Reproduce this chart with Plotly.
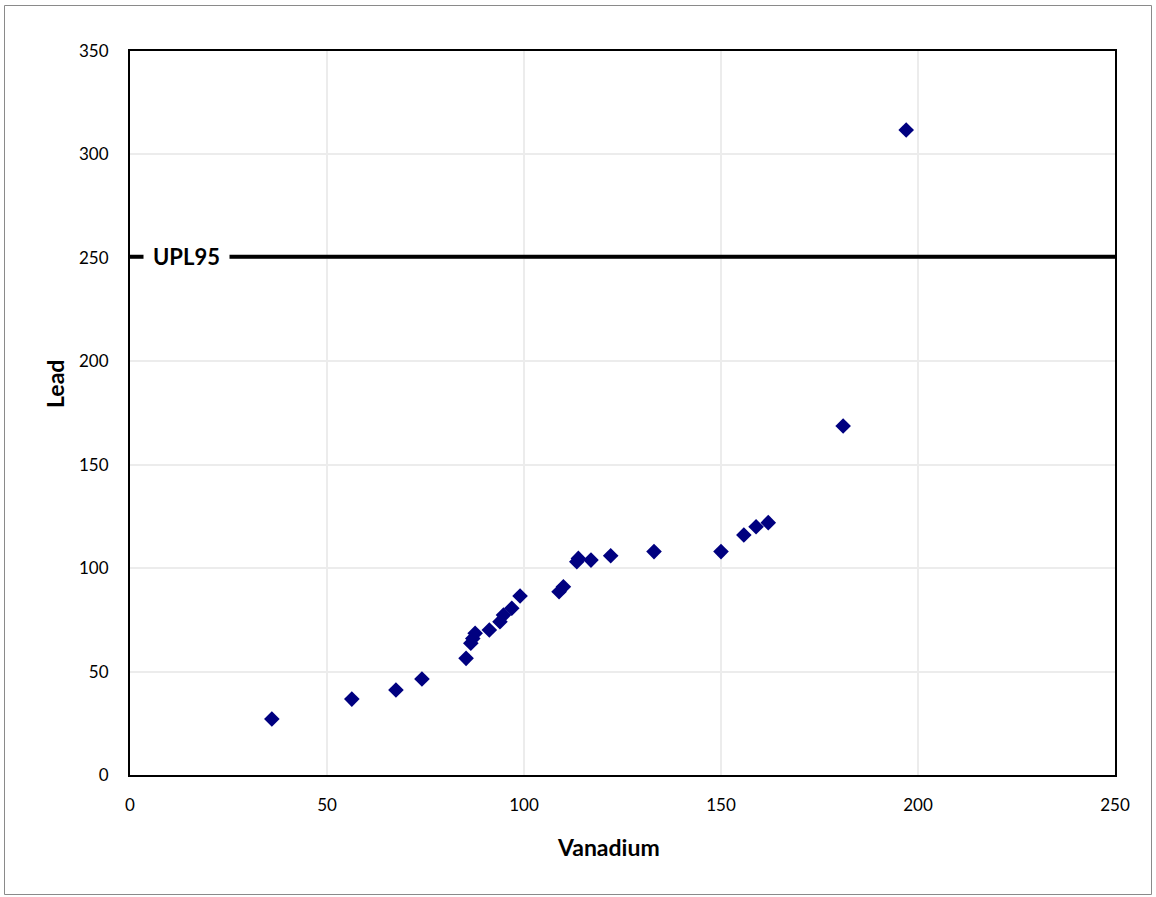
import plotly.graph_objects as go

# Vanadium vs. lead concentrations
vanadium = [36.0, 56.3, 67.5, 74.1, 85.3, 86.5, 87.0, 87.6, 91.2, 93.9, 94.8, 96.9, 99.0,
            108.9, 110.0, 113.4, 113.8, 117.0, 122.0, 133.0, 150.0, 155.8, 158.9, 162.0,
            181.0, 197.0]
lead = [27.1, 36.7, 41.1, 46.4, 56.4, 63.7, 66.0, 68.5, 70.1, 74.1, 77.3, 80.6, 86.5,
        88.6, 91.0, 103.1, 104.7, 103.9, 106.0, 108.0, 108.0, 116.0, 120.0, 122.0,
        168.7, 311.8]

upl95 = 250.5
x_ticks = [0, 50, 100, 150, 200, 250]
y_ticks = [0, 50, 100, 150, 200, 250, 300, 350]

FONT = "Lato, 'Liberation Sans', sans-serif"

fig = go.Figure()
fig.add_trace(go.Scatter(
    x=vanadium, y=lead, mode="markers",
    marker=dict(symbol="diamond", size=12, color="#000080",
                line=dict(width=0)),
    showlegend=False, cliponaxis=False,
))

# UPL95 reference line
fig.add_shape(type="line", xref="x", yref="y", x0=0, x1=250, y0=upl95, y1=upl95,
              line=dict(color="black", width=4), layer="above")
fig.add_annotation(x=14.3, y=upl95, xref="x", yref="y", text="<b>UPL95</b>",
                   showarrow=False, bgcolor="white", borderpad=9,
                   font=dict(family=FONT, size=22, color="black"),
                   xanchor="center", yanchor="middle")

# Axis titles
fig.add_annotation(x=(608 - 130) / 985, y=-72 / 724, xref="paper", yref="paper",
                   text="<b>Vanadium</b>", showarrow=False,
                   font=dict(family=FONT, size=23, color="black"),
                   xanchor="center", yanchor="middle")
fig.add_annotation(x=(55 - 130) / 985, y=(775 - 384) / 724, xref="paper", yref="paper",
                   text="<b>Lead</b>", showarrow=False, textangle=-90,
                   font=dict(family=FONT, size=23, color="black"),
                   xanchor="center", yanchor="middle")

# Outer chart frame
fig.add_shape(type="rect", xref="paper", yref="paper",
              x0=(4.5 - 130) / 985, x1=(1151.5 - 130) / 985,
              y0=(775 - 894.5) / 724, y1=(775 - 5.5) / 724,
              line=dict(color="#8a8a8a", width=1), fillcolor="rgba(0,0,0,0)")

axis_common = dict(
    showgrid=True, gridcolor="#ececec", gridwidth=1.5,
    showline=True, linecolor="black", linewidth=2, mirror=True,
    zeroline=False, ticks="outside", tickcolor="rgba(0,0,0,0)",
    tickfont=dict(family=FONT, size=17, color="black"),
)

fig.update_xaxes(range=[0, 250], tickvals=x_ticks, ticklen=14, **axis_common)
fig.update_yaxes(range=[0, 350], tickvals=y_ticks, ticklen=16, **axis_common)

fig.update_layout(
    width=1156, height=897,
    margin=dict(l=130, r=41, t=51, b=122),
    paper_bgcolor="white", plot_bgcolor="white",
    font=dict(family=FONT),
)

fig.write_html("out.html")
